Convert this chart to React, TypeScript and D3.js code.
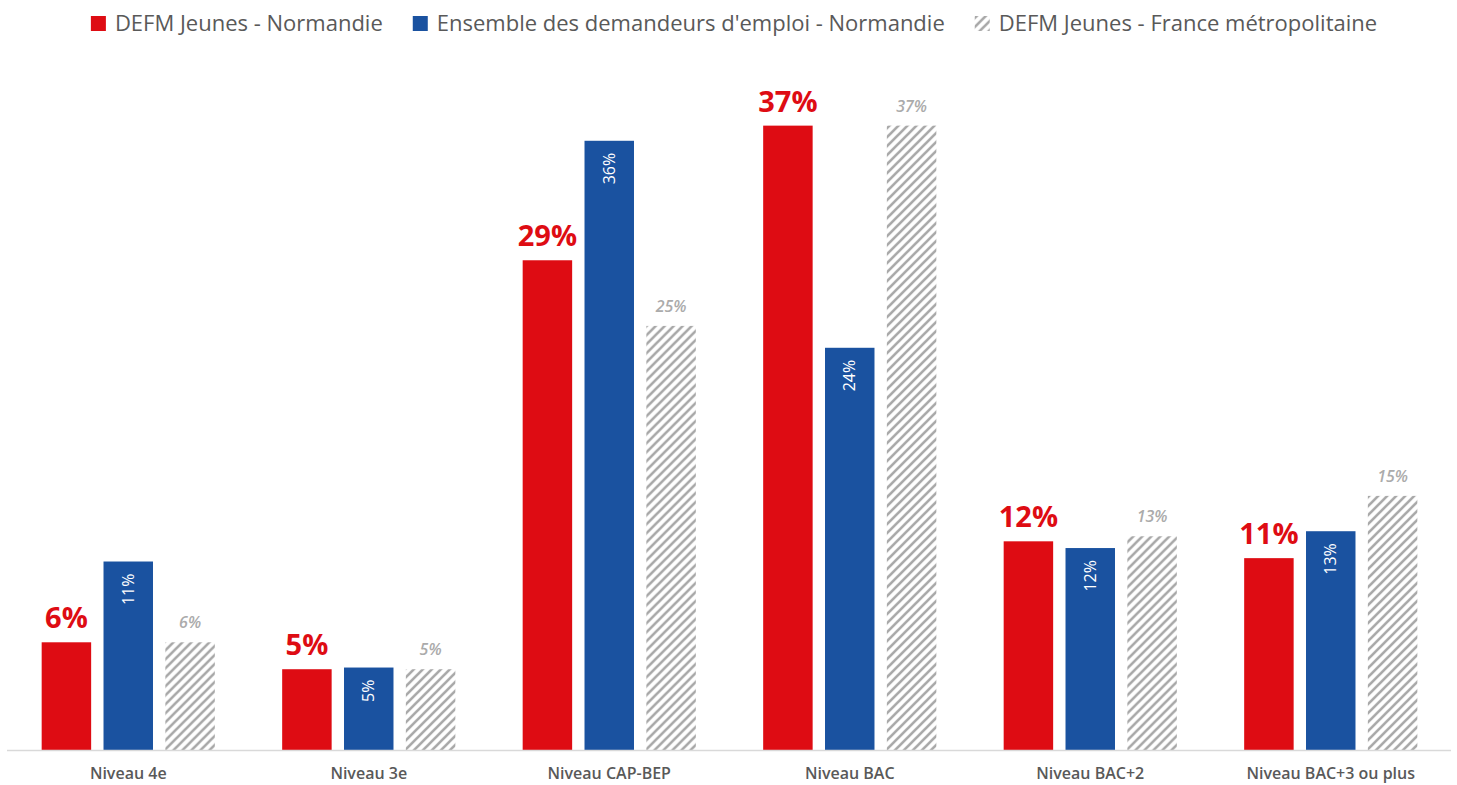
import React, { useRef, useEffect } from 'react';
import * as d3 from 'd3';

const categories = ['Niveau 4e', 'Niveau 3e', 'Niveau CAP-BEP', 'Niveau BAC', 'Niveau BAC+2', 'Niveau BAC+3 ou plus'];
const seriesNames = ['DEFM Jeunes - Normandie', "Ensemble des demandeurs d'emploi - Normandie", 'DEFM Jeunes - France métropolitaine'];
const jeunesNormandie = [6.4, 4.8, 29.1, 37.1, 12.4, 11.4];
const ensembleNormandie = [11.2, 4.9, 36.2, 23.9, 12.0, 13.0];
const jeunesFrance = [6.4, 4.8, 25.2, 37.1, 12.7, 15.1];

const RED = '#DE0C13';
const BLUE = '#1A52A0';
const HATCH = '#A8A8A8';
const FONT = "'Open Sans', sans-serif";

const W = 1457;
const H = 785;

const App: React.FC = () => {
  const svgRef = useRef<SVGSVGElement>(null);

  useEffect(() => {
    if (!svgRef.current) return;
    const svg = d3.select(svgRef.current);
    svg.selectAll('*').remove();

    const defs = svg.append('defs');
    const pat = defs.append('pattern')
      .attr('id', 'hatch')
      .attr('patternUnits', 'userSpaceOnUse')
      .attr('width', 9)
      .attr('height', 9);
    pat.append('rect').attr('width', 9).attr('height', 9).attr('fill', '#fff');
    pat.append('path')
      .attr('d', 'M-2,2 l4,-4 M0,9 l9,-9 M7,11 l4,-4')
      .attr('stroke', HATCH)
      .attr('stroke-width', 2.6);

    const baseline = 750;
    const y = d3.scaleLinear().domain([0, 41]).range([baseline, 60]);
    const x0 = d3.scaleBand<string>()
      .domain(categories)
      .range([8, 1451])
      .paddingInner(0.28)
      .paddingOuter(0.14);
    const x1 = d3.scaleBand<number>()
      .domain([0, 1, 2])
      .range([0, x0.bandwidth()])
      .paddingInner(0.2);

    const rows = categories.map((c, i) => ({
      cat: c,
      vals: [jeunesNormandie[i], ensembleNormandie[i], jeunesFrance[i]]
    }));
    const fills = [RED, BLUE, 'url(#hatch)'];

    const groups = svg.selectAll('.grp')
      .data(rows)
      .enter()
      .append('g')
      .attr('class', 'grp')
      .attr('transform', d => `translate(${x0(d.cat)},0)`);

    groups.selectAll('rect')
      .data(d => d.vals.map((v, s) => ({ v, s })))
      .enter()
      .append('rect')
      .attr('x', d => x1(d.s) || 0)
      .attr('y', d => y(d.v))
      .attr('width', x1.bandwidth())
      .attr('height', d => baseline - y(d.v))
      .attr('fill', d => fills[d.s]);

    // red labels
    groups.append('text')
      .attr('x', (x1(0) || 0) + x1.bandwidth() / 2)
      .attr('y', d => y(d.vals[0]) - 14)
      .attr('text-anchor', 'middle')
      .style('font-family', FONT)
      .style('font-size', '29px')
      .style('font-weight', 700)
      .style('fill', RED)
      .text(d => `${Math.round(d.vals[0])}%`);

    // blue labels, rotated inside the bar
    groups.append('text')
      .attr('transform', d => `translate(${(x1(1) || 0) + x1.bandwidth() / 2},${y(d.vals[1]) + 12}) rotate(-90)`)
      .attr('text-anchor', 'end')
      .attr('dy', '0.35em')
      .style('font-family', FONT)
      .style('font-size', '16px')
      .style('fill', '#fff')
      .text(d => `${Math.round(d.vals[1])}%`);

    // hatched labels
    groups.append('text')
      .attr('x', (x1(2) || 0) + x1.bandwidth() / 2)
      .attr('y', d => y(d.vals[2]) - 14)
      .attr('text-anchor', 'middle')
      .style('font-family', FONT)
      .style('font-size', '16px')
      .style('font-style', 'italic')
      .style('font-weight', 600)
      .style('fill', '#ABABAB')
      .text(d => `${Math.round(d.vals[2])}%`);

    // axis line
    svg.append('line')
      .attr('x1', 7).attr('x2', 1451)
      .attr('y1', baseline + 0.5).attr('y2', baseline + 0.5)
      .attr('stroke', '#D9D9D9')
      .attr('stroke-width', 1.5);

    // category labels
    svg.selectAll('.cat')
      .data(categories)
      .enter()
      .append('text')
      .attr('class', 'cat')
      .attr('x', d => (x0(d) || 0) + x0.bandwidth() / 2)
      .attr('y', 779)
      .attr('text-anchor', 'middle')
      .style('font-family', FONT)
      .style('font-size', '16px')
      .style('font-weight', 600)
      .style('fill', '#595959')
      .text(d => d);

    // legend
    const legend = svg.append('g');
    const items = legend.selectAll('.leg')
      .data(seriesNames)
      .enter()
      .append('g')
      .attr('class', 'leg');
    items.append('rect')
      .attr('width', 15)
      .attr('height', 15)
      .attr('y', 16)
      .attr('fill', (d, i) => fills[i]);
    const texts = items.append('text')
      .attr('x', 24)
      .attr('y', 31)
      .style('font-family', FONT)
      .style('font-size', '22px')
      .style('fill', '#595959')
      .text(d => d);
    const widths: number[] = [];
    texts.each(function () {
      widths.push((this as SVGTextElement).getComputedTextLength());
    });
    const gap = 30;
    const total = widths.reduce((a, w) => a + 24 + w, 0) + gap * (widths.length - 1);
    let cx = 734 - total / 2;
    items.attr('transform', (d, i) => {
      const t = `translate(${cx},0)`;
      cx += 24 + widths[i] + gap;
      return t;
    });
  }, []);

  return (
    <svg
      ref={svgRef}
      width={W}
      height={H}
      viewBox={`0 0 ${W} ${H}`}
      style={{ position: 'absolute', left: 0, top: 0, background: '#fff' }}
    />
  );
};

export default App;
